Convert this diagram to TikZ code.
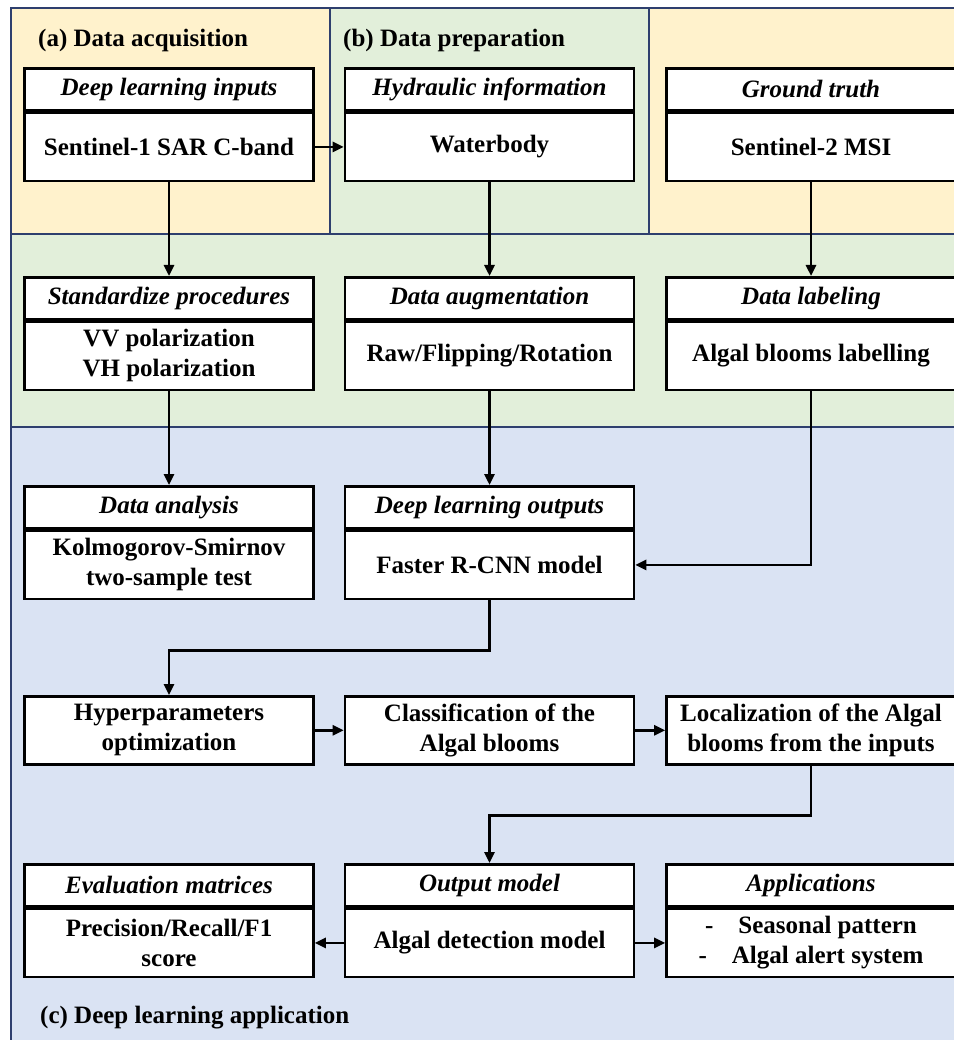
\documentclass[tikz,border=0pt]{standalone}
\usepackage{fontspec}
\setmainfont{Liberation Serif}
\usetikzlibrary{arrows.meta}
\definecolor{ylw}{HTML}{FFF2CC}
\definecolor{grn}{HTML}{E2EFDA}
\definecolor{blu}{HTML}{DAE3F3}
\definecolor{navy}{HTML}{2E3F6E}
\begin{document}
\begin{tikzpicture}[x=1pt,y=-1pt,
  font=\fontsize{25}{30}\selectfont\bfseries,
  region/.style={draw=navy, line width=1.2pt},
  hbox/.style={draw=black, fill=white, line width=2.6pt, minimum width=289pt, minimum height=42pt, inner sep=0pt, align=center, font=\fontsize{25}{30}\selectfont\bfseries\itshape},
  bbox/.style={draw=black, fill=white, line width=2.6pt, minimum width=289pt, minimum height=68pt, inner sep=0pt, align=center},
  lbl/.style={anchor=base west, inner sep=0pt},
  arr/.style={line width=2.6pt, -{Triangle[length=11pt,width=10pt]}}
]
\useasboundingbox (0,0) rectangle (953,1040);
% backgrounds
\fill[white] (0,0) rectangle (953,1040);
\filldraw[region, fill=blu] (11,427) rectangle (975,1060);
\filldraw[region, fill=grn] (11,234) rectangle (975,427);
\filldraw[region, fill=ylw] (11,8) rectangle (330,234);
\filldraw[region, fill=grn] (330,8) rectangle (649,234);
\filldraw[region, fill=ylw] (649,8) rectangle (975,234);
% section labels
\node[lbl] (la) at (38,47) {(a) Data acquisition};
\node[lbl] (lb) at (343,47) {(b) Data preparation};
\node[lbl] (lc) at (40,1023) {(c) Deep learning application};
% row 1
\node[hbox, anchor=north] (b1h) at (169,67) {Deep learning inputs};
\node[bbox, anchor=north] (b1) at (b1h.south) {Sentinel-1 SAR C-band};
\node[hbox, anchor=north] (b2h) at (489.5,67) {Hydraulic information};
\node[bbox, anchor=north] (b2) at (b2h.south) {Waterbody};
\node[hbox, anchor=north] (b3h) at (811,67) {Ground truth};
\node[bbox, anchor=north] (b3) at (b3h.south) {Sentinel-2 MSI};
% row 2
\node[hbox, anchor=north] (s1h) at (169,276) {Standardize procedures};
\node[bbox, anchor=north] (s1) at (s1h.south) {VV polarization\\VH polarization};
\node[hbox, anchor=north] (s2h) at (489.5,276) {Data augmentation};
\node[bbox, anchor=north] (s2) at (s2h.south) {Raw/Flipping/Rotation};
\node[hbox, anchor=north] (s3h) at (811,276) {Data labeling};
\node[bbox, anchor=north] (s3) at (s3h.south) {Algal blooms labelling};
% row 3
\node[hbox, anchor=north] (d1h) at (169,485) {Data analysis};
\node[bbox, anchor=north] (d1) at (d1h.south) {Kolmogorov-Smirnov\\two-sample test};
\node[hbox, anchor=north] (d2h) at (489.5,485) {Deep learning outputs};
\node[bbox, anchor=north] (d2) at (d2h.south) {Faster R-CNN model};
% row 4
\node[bbox, anchor=north] (h1) at (169,695) {Hyperparameters\\optimization};
\node[bbox, anchor=north] (h2) at (489.5,695) {Classification of the\\Algal blooms};
\node[bbox, anchor=north] (h3) at (811,695) {Localization of the Algal\\blooms from the inputs};
% row 5
\node[hbox, anchor=north] (o1h) at (169,863) {Evaluation matrices};
\node[bbox, anchor=north] (o1) at (o1h.south) {Precision/Recall/F1\\score};
\node[hbox, anchor=north] (o2h) at (489.5,863) {Output model};
\node[bbox, anchor=north] (o2) at (o2h.south) {Algal detection model};
\node[hbox, anchor=north] (o3h) at (811,863) {Applications};
\node[bbox, anchor=north] (o3) at (o3h.south) {-\hspace{25pt}Seasonal pattern\\-\hspace{25pt}Algal alert system};
% connectors
\draw[arr] (b1.east) -- (b2.west);
\draw[arr] (b1.south) -- (s1h.north);
\draw[arr] (b2.south) -- (s2h.north);
\draw[arr] (b3.south) -- (s3h.north);
\draw[arr] (s1.south) -- (d1h.north);
\draw[arr] (s2.south) -- (d2h.north);
\draw[arr] (s3.south) |- (d2.east);
\draw[arr] (d2.south) -- ++(0,50) -| (h1.north);
\draw[arr] (h1.east) -- (h2.west);
\draw[arr] (h2.east) -- (h3.west);
\draw[arr] (h3.south) -- ++(0,50) -| (o2h.north);
\draw[arr] (o2.west) -- (o1.east);
\draw[arr] (o2.east) -- (o3.west);
\end{tikzpicture}
\end{document}
